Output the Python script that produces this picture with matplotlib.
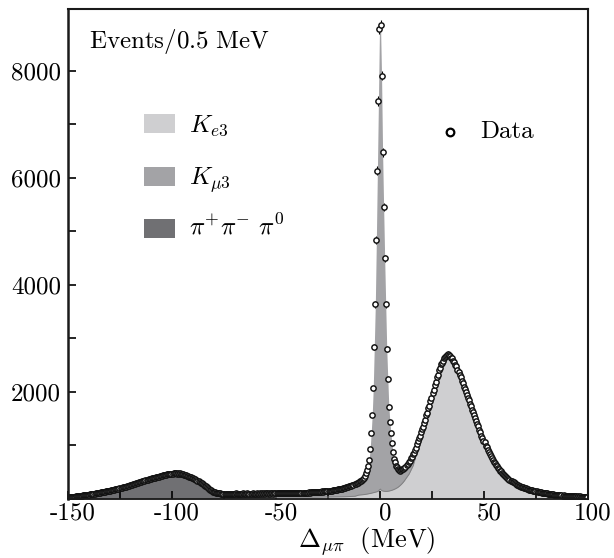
import numpy as np
import matplotlib
matplotlib.use("Agg")
import matplotlib.pyplot as plt
import matplotlib.transforms as mtransforms
from matplotlib.patches import Rectangle

plt.rcParams['mathtext.fontset'] = 'cm'
plt.rcParams['font.family'] = ['cmr10', 'DejaVu Serif']
plt.rcParams['axes.unicode_minus'] = False

# ---------------- data: events per 0.5 MeV bin, bins from -150 to 100 MeV ----------------
bin_start = -150.0
bin_width = 0.5

counts_pipipi_region = [
    33, 37, 36, 41, 42, 46, 44, 50, 52, 55,
    58, 61, 63, 60, 68, 70, 73, 71, 79, 82,
    84, 88, 92, 89, 97, 101, 104, 108, 106, 116,
    119, 125, 123, 131, 136, 134, 143, 147, 151, 156,
    158, 166, 163, 172, 177, 181, 179, 190, 196, 199,
    207, 210, 219, 216, 226, 233, 238, 236, 248, 255,
    259, 268, 272, 279, 276, 291, 296, 302, 311, 318,
    324, 331, 338, 335, 349, 352, 361, 366, 371, 380,
    386, 389, 398, 396, 405, 410, 414, 412, 423, 428,
    437, 441, 446, 452, 449, 460, 463, 467, 474, 470,
    476, 481, 478, 483, 475, 480, 472, 477, 469, 466,
    463, 455, 452, 441, 436, 428, 419, 410, 402, 392,
    385, 374, 366, 352, 344, 331, 318, 305, 290, 276,
    262, 246, 235, 219, 206, 190, 177, 163, 150, 139,
    127, 122, 116, 113, 108, 105, 103, 99, 101, 97,
]
counts_flat_region = [
    96, 100, 94, 99, 102, 95, 98, 101, 96, 99,
    98, 103, 95, 100, 97, 102, 99, 96, 104, 98,
    101, 97, 103, 99, 95, 102, 100, 104, 98, 101,
    100, 104, 97, 102, 106, 99, 103, 100, 105, 101,
    103, 107, 101, 105, 99, 108, 104, 102, 107, 105,
    105, 109, 103, 108, 106, 110, 104, 111, 107, 109,
    108, 112, 106, 113, 110, 108, 114, 111, 109, 115,
    112, 116, 110, 117, 114, 119, 115, 118, 121, 117,
    120, 123, 119, 125, 122, 127, 124, 130, 128, 133,
    132, 135, 131, 138, 141, 137, 143, 146, 144, 150,
    148, 153, 156, 152, 160, 163, 166, 170, 174, 178,
    180, 186, 190, 196, 199, 205, 211, 216, 222, 229,
    238, 244, 252, 257, 266, 274, 281, 290, 301, 312,
]
counts_kmu3_region = [
    329, 336, 355, 369, 397, 430, 479, 535, 609, 726,
    930, 1228, 1570, 2069, 2847, 3639, 4841, 6137, 7439, 8790,
    8860, 7912, 6480, 5464, 4499, 3639, 2804, 2249, 1725, 1445,
    1232, 1038, 876, 752, 686, 618, 593, 556, 550, 531,
    538, 553, 559, 583, 603, 633, 651, 694, 718, 765,
]
counts_ke3_region = [
    790, 836, 861, 921, 962, 1027, 1078, 1140, 1183, 1252,
    1306, 1345, 1423, 1482, 1568, 1614, 1699, 1747, 1838, 1896,
    1990, 2035, 2131, 2180, 2277, 2318, 2410, 2440, 2522, 2548,
    2584, 2633, 2652, 2680, 2691, 2712, 2697, 2673, 2641, 2626,
    2582, 2553, 2504, 2478, 2410, 2380, 2312, 2276, 2207, 2168,
    2102, 2058, 1992, 1953, 1883, 1845, 1773, 1735, 1665, 1627,
    1571, 1505, 1466, 1398, 1359, 1290, 1251, 1184, 1146, 1087,
    1056, 999, 968, 912, 885, 834, 806, 759, 733, 690,
    675, 634, 617, 580, 565, 531, 516, 486, 472, 444,
    432, 406, 396, 372, 364, 342, 335, 315, 309, 291,
    286, 269, 265, 249, 246, 231, 229, 215, 213, 200,
    198, 187, 185, 175, 173, 164, 162, 153, 152, 144,
    143, 135, 135, 127, 127, 119, 120, 113, 114, 107,
    104, 97, 98, 91, 92, 86, 87, 81, 82, 76,
    78, 72, 74, 68, 70, 64, 66, 61, 63, 58,
    60, 55, 57, 52, 55, 49, 52, 47, 50, 45,
    48, 43, 47, 42, 45, 41, 44, 39, 43, 38,
]

# ---------------- fitted components (MeV grid) ----------------
model_x = [-150, -145, -140, -135, -130, -125, -120, -115, -110, -107,
           -104, -101, -98, -96, -94, -92, -90, -88, -86, -84,
           -82, -80, -78, -76, -74, -72, -65, -58, -50, -42,
           -35, -30, -25, -20, -17, -14, -12,
           -10.25, -9.75, -9.25, -8.75, -8.25, -7.75, -7.25, -6.75, -6.25, -5.75, -5.25,
           -4.75, -4.25, -3.75, -3.25, -2.75, -2.25, -1.75, -1.25, -0.75, -0.25,
           0.25, 0.75, 1.25, 1.75, 2.25, 2.75, 3.25, 3.75, 4.25, 4.75,
           5.25, 5.75, 6.25, 6.75, 7.25, 7.75, 8.25, 8.75, 9.25, 9.75,
           10.25, 10.75, 11.25, 11.75, 12.25,
           14, 16, 18, 20, 22, 24, 26, 28, 30, 32,
           33, 34, 36, 38, 40, 42, 44, 46, 48, 50,
           53, 56, 60, 64, 68, 72, 76, 80, 85, 90, 95, 100]

pipipi = [33, 57, 82, 117, 157, 202, 257, 322, 382, 417,
          447, 469, 475, 467, 452, 422, 387, 337, 282, 220,
          163, 118, 78, 50, 36, 30, 25, 22, 20, 18,
          16, 15, 14, 13, 12, 12, 11,
          10, 10, 10, 10, 10, 10, 10, 10, 10, 10, 10,
          9, 9, 9, 9, 9, 9, 9, 9, 9, 9,
          8, 8, 8, 8, 8, 8, 8, 8, 8, 8,
          6, 6, 6, 6, 6, 6, 6, 6, 6, 6,
          5, 5, 5, 5, 5,
          4, 4, 3, 3, 2, 2, 2, 1, 1, 0,
          0, 0, 0, 0, 0, 0, 0, 0, 0, 0,
          0, 0, 0, 0, 0, 0, 0, 0, 0, 0, 0, 0]

ke3 = [1, 2, 2, 2, 2, 2, 2, 2, 2, 2,
       2, 2, 2, 2, 2, 2, 2, 2, 2, 2,
       3, 4, 5, 6, 7, 8, 10, 12, 14, 16,
       18, 20, 23, 27, 30, 35, 40,
       62, 64, 66, 68, 70, 72, 75, 78, 81, 85, 89,
       94, 98, 103, 108, 113, 118, 123, 129, 139, 163,
       177, 152, 142, 138, 135, 134, 134, 136, 139, 144,
       151, 157, 164, 172, 181, 191, 202, 215, 230, 247,
       267, 287, 310, 335, 363,
       461, 621, 897, 1177, 1453, 1748, 2055, 2344, 2559, 2673,
       2684, 2650, 2521, 2337, 2128, 1909, 1694, 1480, 1265, 1066,
       816, 622, 435, 310, 228, 178, 138, 103, 76, 57, 45, 39]

kmu3 = [1, 1, 1, 1, 1, 1, 1, 1, 1, 1,
        1, 1, 1, 1, 1, 1, 1, 1, 1, 2,
        3, 8, 22, 39, 52, 60, 65, 67, 71, 76,
        86, 97, 111, 140, 168, 208, 234,
        240, 252, 263, 274, 291, 312, 348, 388, 447, 511, 630,
        827, 1121, 1458, 1952, 2725, 3512, 4709, 5999, 7291, 8618,
        8675, 7752, 6330, 5318, 4356, 3497, 2662, 2105, 1578, 1293,
        1071, 878, 702, 579, 494, 425, 381, 340, 311, 282,
        269, 257, 248, 238, 239,
        240, 225, 180, 120, 70, 40, 28, 20, 15, 12,
        11, 10, 9, 8, 7, 6, 6, 5, 5, 4,
        4, 3, 3, 2, 2, 2, 1, 1, 1, 1, 1, 1]

x_ticks = [-150, -125, -100, -75, -50, -25, 0, 25, 50, 75, 100]
x_ticklabels = ['-150', '', '-100', '', '-50', '', '0', '', '50', '', '100']
y_ticks = [1000, 2000, 3000, 4000, 5000, 6000, 7000, 8000]
y_ticklabels = ['', '2000', '', '4000', '', '6000', '', '8000']

legend_labels = [r'$K_{e3}$', r'$K_{\mu3}$', r'$\pi^{+}\pi^{-}\ \pi^{0}$']

# ---------------- styling ----------------
col_ke3 = '#cfcfd1'
col_kmu3 = '#a3a3a6'
col_pi = '#707073'
FS = 18

counts = np.array(counts_pipipi_region + counts_flat_region + counts_kmu3_region + counts_ke3_region, float)
xc = bin_start + bin_width * (np.arange(len(counts)) + 0.5)

mx = np.array(model_x, float)
p = np.array(pipipi, float)
e = np.array(ke3, float)
m = np.array(kmu3, float)

fig = plt.figure(figsize=(6.14, 5.58), dpi=100)
ax = fig.add_axes([68 / 614, 1 - 499 / 558, 520 / 614, 490 / 558])

ax.fill_between(mx, 0, p, color=col_pi, lw=0, zorder=1)
ax.fill_between(mx, p, p + e, color=col_ke3, lw=0, zorder=1)
ax.fill_between(mx, p + e, p + e + m, color=col_kmu3, lw=0, zorder=1)
ax.plot(mx, p + e, color='#808082', lw=0.7, zorder=2)

ax.errorbar(xc, counts, yerr=np.sqrt(counts), fmt='o', ms=3.8, mfc='white', mec='#111111',
            mew=1.05, ecolor='black', elinewidth=0.8, capsize=0, zorder=3)

ax.set_xlim(-150, 100)
ax.set_ylim(0, 9158)

ax.set_xticks(x_ticks)
ax.set_xticklabels(x_ticklabels, fontsize=FS)
ax.set_yticks(y_ticks)
ax.set_yticklabels(y_ticklabels, fontsize=FS)
ax.tick_params(axis='both', direction='in', length=6, width=1.2, color='black')
ax.tick_params(axis='x', pad=2.5)
ax.tick_params(axis='y', pad=5)
offset = mtransforms.ScaledTranslation(5 / 100, 0, fig.dpi_scale_trans)
for lab in ax.get_xticklabels():
    lab.set_transform(lab.get_transform() + offset)

for side, lw in [('left', 1.8), ('top', 1.5), ('right', 1.5), ('bottom', 1.3)]:
    ax.spines[side].set_linewidth(lw)
    ax.spines[side].set_color('#1a1a1a')
    ax.spines[side].set_zorder(5)

# annotations
ax.text(0.040, 0.920, r'$\mathrm{Events/0.5\ MeV}$', transform=ax.transAxes,
        fontsize=FS, ha='left', va='baseline')

patch_y = [0.747, 0.639, 0.533]
label_y = [0.749, 0.641, 0.539]
patch_cols = [col_ke3, col_kmu3, col_pi]
for py, ly, c, lab in zip(patch_y, label_y, patch_cols, legend_labels):
    ax.add_patch(Rectangle((0.146, py), 0.0596, 0.0388, transform=ax.transAxes,
                           facecolor=c, edgecolor='none', zorder=4))
    ax.text(0.232, ly, lab, transform=ax.transAxes, fontsize=FS, ha='left', va='baseline')

ax.plot([0.735], [0.750], 'o', transform=ax.transAxes, ms=5.5, mfc='white', mec='black', mew=1.6)
ax.text(0.792, 0.737, 'Data', transform=ax.transAxes, fontsize=FS, ha='left', va='baseline')

fig.text(298 / 614, 1 - 547.5 / 558, r'$\Delta_{\mu\pi}\ \ \mathrm{(MeV)}$', fontsize=19,
         ha='left', va='baseline')

fig.savefig('out.png', dpi=100)
